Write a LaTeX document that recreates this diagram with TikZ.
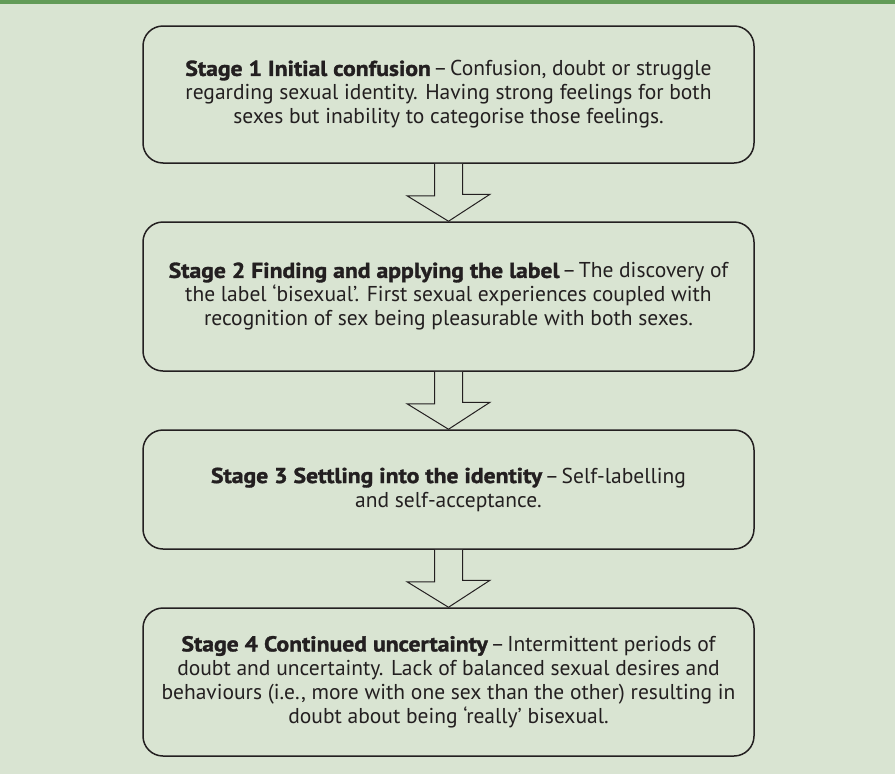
\documentclass[tikz,border=0pt]{standalone}
\usepackage{fontspec}
\setmainfont{PT Sans}[BoldFeatures={FakeBold=1.5,FakeStretch=1.1}]
\definecolor{bgc}{HTML}{D9E4D2}
\definecolor{barc}{HTML}{629B58}
\definecolor{inkc}{HTML}{231F20}
\newcommand{\dsh}{\hspace{0.12em}–\hspace{0.12em}}
\tikzset{
  stagebox/.style={draw=inkc, line width=1.5pt, rounded corners=20pt,
    minimum width=611pt, align=center, text=inkc,
    font=\fontsize{21.5}{24}\selectfont, inner sep=0pt},
  blockarrow/.style={draw=inkc, line width=1pt, fill=bgc, line join=miter}
}
\begin{document}
\begin{tikzpicture}[x=1pt,y=-1pt]
\useasboundingbox (0,0) rectangle (895,774);
\fill[bgc] (0,0) rectangle (895,774);
\fill[barc] (0,0) rectangle (895,4);

\node[stagebox, minimum height=137pt] (b1) at (448.5,94.5)
 {\textbf{Stage 1 Initial confusion}\dsh Confusion, doubt or struggle\\
  regarding sexual identity. Having strong feelings for both\\
  sexes but inability to categorise those feelings.};
\node[stagebox, minimum height=149pt] (b2) at (448.5,296.5)
 {\textbf{Stage 2 Finding and applying the label}\dsh The discovery of\\
  the label ‘bisexual’. First sexual experiences coupled with\\
  recognition of sex being pleasurable with both sexes.};
\node[stagebox, minimum height=119pt] (b3) at (448.5,489.5)
 {\textbf{Stage 3 Settling into the identity}\dsh Self-labelling\\
  and self-acceptance.};
\node[stagebox, minimum height=148pt] (b4) at (448.5,682)
 {\textbf{Stage 4 Continued uncertainty}\dsh Intermittent periods of\\
  doubt and uncertainty. Lack of balanced sexual desires and\\
  behaviours (i.e., more with one sex than the other) resulting in\\
  doubt about being ‘really’ bisexual.};

\foreach \a/\b in {b1/b2, b2/b3, b3/b4}{
  \draw[blockarrow] ([xshift=-14pt]\a.south) -- ++(0,32) -- ++(-27.5,0)
    -- (\b.north) -- ([xshift=41.5pt,yshift=27pt]\b.north)
    -- ++(-27.5,0) -- ([xshift=14pt]\a.south);
}
\end{tikzpicture}
\end{document}
